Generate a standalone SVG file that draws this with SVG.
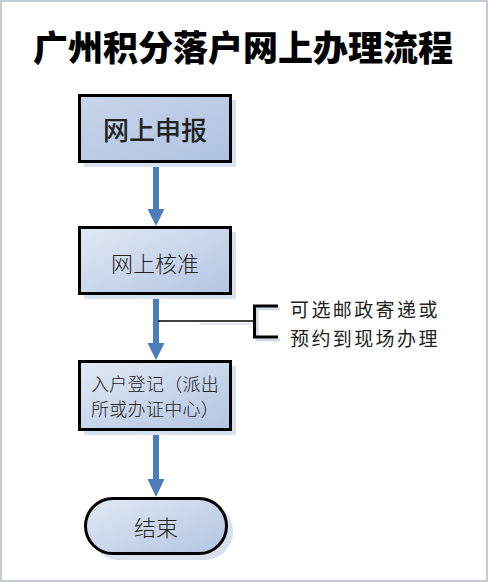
<svg xmlns="http://www.w3.org/2000/svg" width="488" height="582" viewBox="0 0 488 582">
  <defs>
    <linearGradient id="g" x1="0" y1="0" x2="1" y2="1">
      <stop offset="0" stop-color="#e2e9f4"/>
      <stop offset="1" stop-color="#b2c5e2"/>
    </linearGradient>
    <linearGradient id="g1" x1="0" y1="0" x2="1" y2="1">
      <stop offset="0" stop-color="#c9d6ea"/>
      <stop offset="1" stop-color="#aec2e1"/>
    </linearGradient>
  </defs>
  <style>
    .box{stroke:#000;stroke-width:3}
    .shadow{fill:#d7e0ee}
    .shaft{stroke:#4a7ebb;stroke-width:6;fill:none}
    .head{fill:#4a7ebb}
    .t{font-family:"Noto Sans CJK SC","Noto Sans",sans-serif;fill:#222;dominant-baseline:central}
  </style>
  <rect x="0" y="0" width="488" height="582" fill="#fff"/>
  <rect x="1" y="1" width="486" height="580" fill="none" stroke="#c3cbd6" stroke-width="2"/>
  <text x="243" y="45" text-anchor="middle" class="t" style="font-size:35px;font-weight:900;fill:#000">广州积分落户网上办理流程</text>

  <g id="connectors">
    <line class="shaft" x1="156" y1="163" x2="156" y2="210"/>
    <polygon class="head" points="147.5,209 164.5,209 156,226"/>
    <line class="shaft" x1="156" y1="295" x2="156" y2="344"/>
    <polygon class="head" points="147.5,343 164.5,343 156,360"/>
    <line class="shaft" x1="156" y1="431" x2="156" y2="480"/>
    <polygon class="head" points="147.5,479 164.5,479 156,497"/>
    <line x1="158" y1="321" x2="254" y2="321" stroke="#000" stroke-width="1.5"/>
    <line x1="200" y1="324" x2="254" y2="324" stroke="#dde3ec" stroke-width="1.5"/>
  </g>

  <g id="n1">
    <rect class="shadow" x="84" y="100" width="152" height="67"/>
    <rect class="box" x="79.5" y="95.5" width="151" height="66" fill="url(#g1)"/>
    <text class="t" x="155" y="128" text-anchor="middle" style="font-size:26px;font-weight:500">网上申报</text>
  </g>
  <g id="n2">
    <rect class="shadow" x="84" y="232" width="152" height="67"/>
    <rect class="box" x="79.5" y="227.5" width="151" height="66" fill="url(#g)"/>
    <text class="t" x="155" y="262" text-anchor="middle" style="font-size:22px;font-weight:300">网上核准</text>
  </g>
  <g id="n3">
    <rect class="shadow" x="84" y="366" width="152" height="69"/>
    <rect class="box" x="79.5" y="361.5" width="151" height="68" fill="url(#g)"/>
    <text class="t" x="91" y="383" style="font-size:18px;font-weight:300;letter-spacing:0.3px">入户登记（派出</text>
    <text class="t" x="91" y="408" style="font-size:18px;font-weight:300;letter-spacing:0.3px">所或办证中心）</text>
  </g>
  <g id="n4">
    <rect class="shadow" x="90" y="503" width="143" height="57" rx="28.5"/>
    <rect class="box" x="85.5" y="498.5" width="141" height="55" rx="27.5" fill="url(#g)"/>
    <text class="t" x="156" y="526" text-anchor="middle" style="font-size:22px;font-weight:300">结束</text>
  </g>
  <g id="note">
    <path d="M280,309 H257 V340 H280" fill="none" stroke="#d5dbe4" stroke-width="3"/>
    <path d="M278,306 H254.5 V337 H278" fill="none" stroke="#000" stroke-width="3"/>
    <text class="t" x="290" y="308" style="font-size:19px;letter-spacing:2.4px">可选邮政寄递或</text>
    <text class="t" x="290" y="337" style="font-size:19px;letter-spacing:2.4px">预约到现场办理</text>
  </g>
</svg>
